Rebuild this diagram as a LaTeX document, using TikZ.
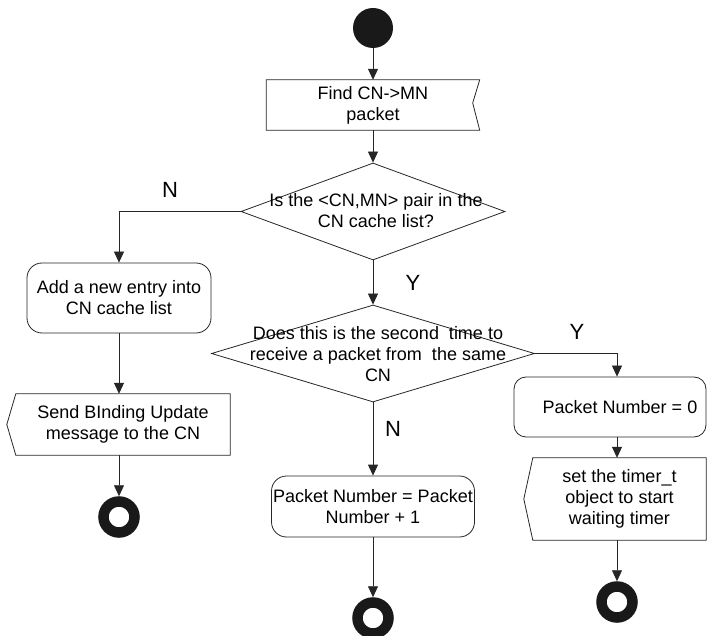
\documentclass[tikz,border=0pt]{standalone}
\usepackage{fontspec}
\setmainfont{Liberation Sans}
\usetikzlibrary{shapes.geometric,arrows.meta,calc}

\begin{document}
\begin{tikzpicture}[x=1pt,y=-1pt,
  every node/.style={font=\fontsize{18}{21}\selectfont},
  flow/.style={draw=black!85, line width=0.8pt},
  arrow/.style={flow, -{Triangle[width=10pt,length=11pt]}},
  actbox/.style={draw=black!85, line width=0.8pt, rounded corners=15pt, inner sep=0pt, align=center},
  plain/.style={inner sep=0pt, align=center},
  startdot/.style={circle, fill=black!90, minimum size=40pt, inner sep=0pt},
  enddot/.style={circle, draw=black!90, fill=white, line width=10.5pt, minimum size=31pt, inner sep=0pt},
  decision/.style={diamond, draw=black!85, line width=0.8pt, inner sep=0pt},
  lbl/.style={font=\fontsize{22}{24}\selectfont, inner sep=0pt}
]
\useasboundingbox (0,0) rectangle (707,636);

% vertical line of the right-hand branch
\coordinate (rcol) at (617,0);

% start and first step
\node[startdot] (start) at (373,28) {};
\node[plain, minimum width=213pt, minimum height=50pt] (find) at (373,105) {Find CN->MN\\packet};
\draw[flow] (find.north west) -- (find.north east) -- ($(find.east)+(-7,-2)$)
  -- (find.south east) -- (find.south west) -- cycle;

% first decision
\node[decision, minimum width=264pt, minimum height=97pt] (q1) at (373,211.5) {};
\node[plain] (q1text) at (376,211) {Is the <CN,MN> pair in the\\CN cache list?};

% left branch (N)
\node[lbl] (nlabel1) at (170,190) {N};
\node[actbox, minimum width=184pt, minimum height=70pt] (add) at (119,298) {Add a new entry into\\CN cache list};
\node[plain, minimum width=214pt, minimum height=61pt] (send) at (123,424.5) {Send BInding Update\\message to the CN};
\draw[flow] (send.north west) -- (send.north east) -- (send.south east)
  -- (send.south west) -- ($(send.west)+(-9,0)$) -- cycle;
\node[enddot] (end1) at (119,517) {};

% second decision (Y)
\node[lbl] (ylabel1) at (413,283) {Y};
\node[decision, minimum width=323pt, minimum height=97pt] (q2) at (373,353.5) {};
\node[plain] (q2text) at (378,354) {Does this is the second\ \ time to\\receive a packet from\ \ the same\\CN};

% middle branch (N)
\node[lbl] (nlabel2) at (393,429) {N};
\node[actbox, minimum width=203pt, minimum height=61pt] (pn1) at (373,506.5) {Packet Number = Packet\\Number + 1};
\node[enddot] (end2) at (373,618) {};

% right branch (Y)
\node[lbl] (ylabel2) at (577,332) {Y};
\node[actbox, rounded corners=12pt, minimum width=192pt, minimum height=60pt] (pn0) at (610,407) {};
\node[plain] (pn0text) at (620,407) {Packet Number = 0};
\node[plain, minimum width=173pt, minimum height=82pt] (timer) at (619.5,499) {set the timer\_t\\object to start\\waiting timer};
\draw[flow] (timer.north west) -- (timer.north east) -- (timer.south east)
  -- (timer.south west) -- ($(timer.west)+(-9,0)$) -- cycle;
\node[enddot] (end3) at (617,602) {};

% connectors
\draw[arrow] (start) -- (find);
\draw[arrow] (find.south) -- (q1.north);
\draw[arrow] (q1.west) -| (add.north);
\draw[arrow] (add.south) -- (add.south |- send.north);
\draw[arrow] (add.south |- send.south) -- (end1);
\draw[arrow] (q1.south) -- (q2.north);
\draw[arrow] (q2.south) -- (pn1.north);
\draw[arrow] (pn1) -- (end2);
\draw[arrow] (q2.east) -| (rcol |- pn0.north);
\draw[arrow] (rcol |- pn0.south) -- (rcol |- timer.north);
\draw[arrow] (rcol |- timer.south) -- (end3);
\end{tikzpicture}
\end{document}
